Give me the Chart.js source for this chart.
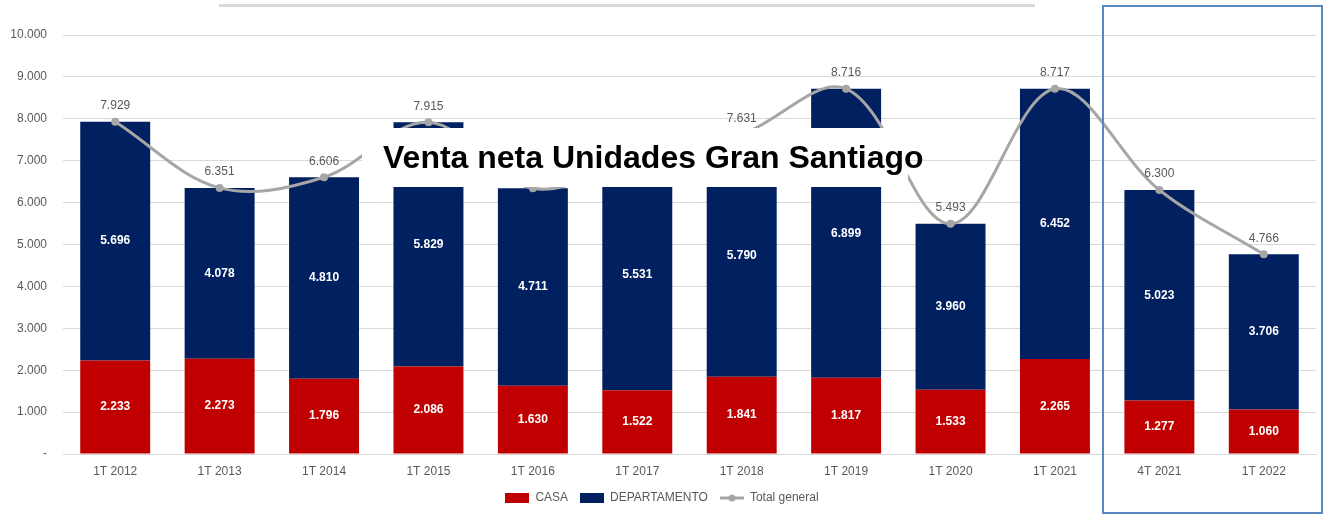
<!DOCTYPE html>
<html lang="es">
<head>
    <meta charset="UTF-8">
    <title>Venta neta Unidades Gran Santiago</title>
    <script src="https://cdn.jsdelivr.net/npm/chart.js"></script>
    <style>
        * {
            margin: 0;
            padding: 0;
            box-sizing: border-box;
        }
        body {
            background: white;
            font-family: 'Liberation Sans', Arial, sans-serif;
            overflow: hidden;
        }
        .wrap {
            position: relative;
            width: 1324px;
            height: 514px;
        }
        .topline {
            position: absolute;
            left: 219px;
            top: 4px;
            width: 816px;
            height: 3px;
            background: #d9d9d9;
        }
        .frame {
            position: absolute;
            left: 1102px;
            top: 5px;
            width: 221px;
            height: 509px;
            border: 2px solid #5a87bd;
        }
        .title {
            position: absolute;
            left: 362px;
            top: 128px;
            width: 546px;
            height: 59px;
            background: white;
            padding-left: 21px;
            white-space: nowrap;
            font-size: 32px;
            font-weight: bold;
            line-height: 59px;
            color: #000;
        }
    </style>
</head>
<body>
    <div class="wrap">
        <canvas id="ventaChart"></canvas>
        <div class="topline"></div>
        <div class="frame"></div>
        <div class="title">Venta neta Unidades Gran Santiago</div>
    </div>

    <script>
        // valores
        const periodos = ['1T 2012', '1T 2013', '1T 2014', '1T 2015', '1T 2016', '1T 2017',
                          '1T 2018', '1T 2019', '1T 2020', '1T 2021', '4T 2021', '1T 2022'];
        const casa = [2233, 2273, 1796, 2086, 1630, 1522, 1841, 1817, 1533, 2265, 1277, 1060];
        const departamento = [5696, 4078, 4810, 5829, 4711, 5531, 5790, 6899, 3960, 6452, 5023, 3706];
        const totalGeneral = [7929, 6351, 6606, 7915, 6341, 7053, 7631, 8716, 5493, 8717, 6300, 4766];
        const yTicks = [0, 1000, 2000, 3000, 4000, 5000, 6000, 7000, 8000, 9000, 10000];

        const gris = '#a6a6a6';
        const textoGris = '#595959';

        function fmt(v) {
            if (v === 0) return '-';
            return v.toString().replace(/\B(?=(\d{3})+(?!\d))/g, '.');
        }

        // iconos de la leyenda
        function legendIcon(kind, color) {
            let c = document.createElement('canvas');
            c.width = 24;
            c.height = 10;
            let g = c.getContext('2d');
            if (kind === 'box') {
                g.fillStyle = color;
                g.fillRect(0, 0, 24, 10);
            } else {
                g.strokeStyle = color;
                g.lineWidth = 3;
                g.beginPath();
                g.moveTo(0, 5);
                g.lineTo(24, 5);
                g.stroke();
                g.fillStyle = color;
                g.beginPath();
                g.arc(12, 5, 3.5, 0, Math.PI * 2);
                g.fill();
            }
            return c;
        }

        // etiquetas de datos
        const valueLabels = {
            id: 'valueLabels',
            afterDatasetsDraw(chart) {
                const ctx = chart.ctx;
                ctx.save();
                ctx.textAlign = 'center';
                ctx.textBaseline = 'middle';
                chart.data.datasets.forEach((ds, i) => {
                    const meta = chart.getDatasetMeta(i);
                    meta.data.forEach((el, j) => {
                        const v = ds.data[j];
                        if (ds.type === 'line') {
                            ctx.font = '12px "Liberation Sans", Arial, sans-serif';
                            ctx.fillStyle = textoGris;
                            ctx.fillText(fmt(v), el.x, el.y - 16);
                        } else {
                            ctx.font = 'bold 12px "Liberation Sans", Arial, sans-serif';
                            ctx.fillStyle = '#ffffff';
                            ctx.fillText(fmt(v), el.x, (el.y + el.base) / 2);
                        }
                    });
                });
                ctx.restore();
            }
        };

        Chart.defaults.font.family = '"Liberation Sans", Arial, sans-serif';
        Chart.defaults.font.size = 12;
        Chart.defaults.color = textoGris;

        const ctx = document.getElementById('ventaChart').getContext('2d');
        new Chart(ctx, {
            type: 'bar',
            data: {
                labels: periodos,
                datasets: [
                    {
                        label: 'CASA',
                        data: casa,
                        backgroundColor: '#c00000',
                        stack: 'unidades',
                        order: 1,
                        barPercentage: 0.67,
                        categoryPercentage: 1
                    },
                    {
                        label: 'DEPARTAMENTO',
                        data: departamento,
                        backgroundColor: '#002060',
                        stack: 'unidades',
                        order: 1,
                        barPercentage: 0.67,
                        categoryPercentage: 1
                    },
                    {
                        type: 'line',
                        label: 'Total general',
                        data: totalGeneral,
                        stack: 'total',
                        order: 0,
                        borderColor: gris,
                        backgroundColor: gris,
                        borderWidth: 3,
                        pointRadius: 4,
                        pointBackgroundColor: gris,
                        pointBorderWidth: 0,
                        tension: 0.35,
                        fill: false
                    }
                ]
            },
            options: {
                responsive: true,
                maintainAspectRatio: false,
                animation: false,
                layout: {
                    padding: { top: 35, left: 8, right: 8, bottom: 0 }
                },
                plugins: {
                    tooltip: { enabled: false },
                    legend: {
                        position: 'bottom',
                        sort: (a, b) => a.datasetIndex - b.datasetIndex,
                        labels: {
                            usePointStyle: true,
                            pointStyleWidth: 24,
                            boxHeight: 10,
                            padding: 12,
                            color: textoGris,
                            generateLabels(chart) {
                                return chart.data.datasets.map((ds, i) => ({
                                    text: ds.label,
                                    datasetIndex: i,
                                    fontColor: textoGris,
                                    lineWidth: 0,
                                    hidden: false,
                                    pointStyle: legendIcon(ds.type === 'line' ? 'line' : 'box',
                                        ds.type === 'line' ? gris : ds.backgroundColor)
                                }));
                            }
                        }
                    }
                },
                scales: {
                    x: {
                        stacked: true,
                        grid: { display: false, drawTicks: false },
                        border: { display: true, color: '#d9d9d9', width: 1 },
                        ticks: { padding: 10, color: textoGris },
                        afterFit(axis) {
                            axis.height = 26;
                        }
                    },
                    y: {
                        stacked: true,
                        min: 0,
                        max: 10000,
                        afterBuildTicks(axis) {
                            axis.ticks = yTicks.map(v => ({ value: v }));
                        },
                        afterFit(axis) {
                            axis.width = 55;
                        },
                        grid: { color: '#d9d9d9', drawTicks: false },
                        border: { display: false },
                        ticks: {
                            padding: 16,
                            color: textoGris,
                            callback: v => fmt(v)
                        }
                    }
                }
            },
            plugins: [valueLabels]
        });
    </script>
</body>
</html>
